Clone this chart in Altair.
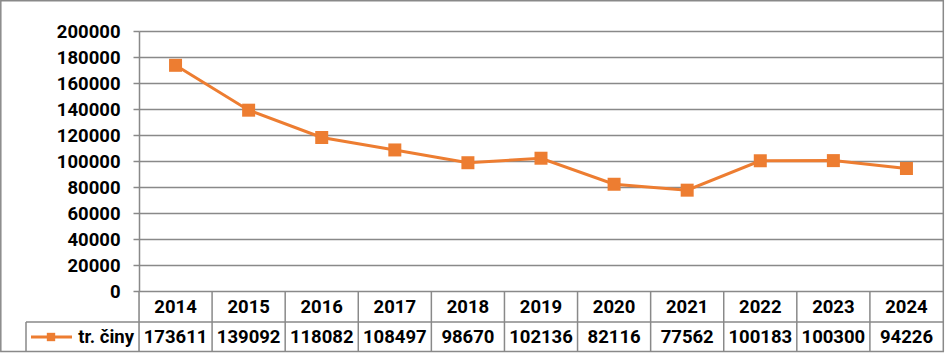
import altair as alt
import pandas as pd

years = ["2014", "2015", "2016", "2017", "2018", "2019", "2020", "2021", "2022", "2023", "2024"]
values = [173611, 139092, 118082, 108497, 98670, 102136, 82116, 77562, 100183, 100300, 94226]
series_name = "tr. činy"
y_ticks = list(range(0, 200001, 20000))

ORANGE = "#ED7D31"
GRAY = "#898989"
FONT = "Roboto"
FS = 18.5

df = pd.DataFrame({"year": years, "value": values})
df["label"] = df["value"].astype(str)

base = alt.Chart(df)
one = alt.Chart(pd.DataFrame({"name": [series_name]}))

xenc = alt.X("year:O", axis=None, sort=years,
             scale=alt.Scale(type="band", paddingInner=0, paddingOuter=0))

yaxis = alt.Axis(values=y_ticks, format="d", grid=True, gridColor=GRAY, gridWidth=1.5,
                 tickColor=GRAY, tickWidth=1.5, tickSize=6, domainColor=GRAY, domainWidth=1.5,
                 labelFont=FONT, labelFontWeight="bold", labelFontSize=FS, labelColor="#000000",
                 labelPadding=13, labelOverlap=False, labelSeparation=0, labelBound=False,
                 tickCount=11, title=None)
yscale = alt.Scale(domain=[0, 200000], range=[260, 0], nice=False, zero=True)
yenc = alt.Y("value:Q", scale=yscale, axis=yaxis)

line = base.mark_line(color=ORANGE, strokeWidth=3).encode(x=xenc, y=yenc)
pts = base.mark_point(shape="square", filled=True, size=169, opacity=1, color=ORANGE).encode(x=xenc, y=yenc)

# data table below plot
year_txt = base.mark_text(font=FONT, fontWeight="bold", fontSize=FS, color="#000000", baseline="middle").encode(
    x=xenc, y=alt.value(276), text="year:N")
val_txt = base.mark_text(font=FONT, fontWeight="bold", fontSize=FS, color="#000000", baseline="middle").encode(
    x=xenc, y=alt.value(306), text="label:N")
col_lines = base.mark_rule(color=GRAY, strokeWidth=1.5).encode(
    x=alt.X("year:O", sort=years, bandPosition=0, axis=None), y=alt.value(260), y2=alt.value(320))
row_line = one.mark_rule(color=GRAY, strokeWidth=1.5).encode(
    x=alt.value(-113), x2=alt.value(804), y=alt.value(291))
legend_left = one.mark_rule(color=GRAY, strokeWidth=1.5).encode(
    x=alt.value(-113), y=alt.value(291), y2=alt.value(320))
leg_line = one.mark_rule(color=ORANGE, strokeWidth=3).encode(
    x=alt.value(-108), x2=alt.value(-67), y=alt.value(306))
leg_sq = one.mark_point(shape="square", filled=True, size=70, opacity=1, color=ORANGE).encode(
    x=alt.value(-88), y=alt.value(306))
leg_txt = one.mark_text(font=FONT, fontWeight="bold", fontSize=FS, color="#000000", baseline="middle",
                        align="right").encode(x=alt.value(-5), y=alt.value(306), text="name:N")
border = one.mark_rect(fill=None, stroke=GRAY, strokeWidth=1.5).encode(
    x=alt.value(-138.2), x2=alt.value(804.3), y=alt.value(-30.2), y2=alt.value(320.5))

chart = alt.layer(col_lines, row_line, legend_left, line, pts, year_txt, val_txt,
                  leg_line, leg_sq, leg_txt, border).properties(
    width=804, height=320,
    autosize=alt.AutoSizeParams(type="none"),
    padding={"left": 139, "top": 31, "right": 2, "bottom": 2},
).configure_view(stroke=None).configure_axis(labelOverlap=False).configure(background="white")

chart.save("out.html", embed_options={"renderer": "svg", "actions": False})
